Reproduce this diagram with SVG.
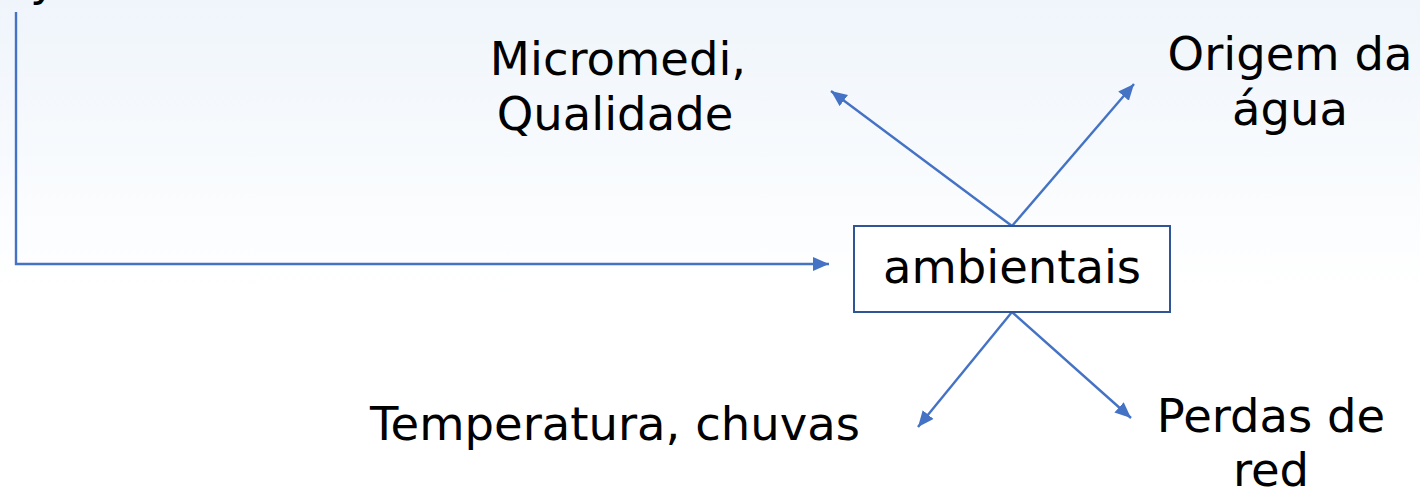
<svg xmlns="http://www.w3.org/2000/svg" width="1420" height="492" viewBox="0 0 1420 492">
  <defs>
    <linearGradient id="bg" x1="0" y1="0" x2="0" y2="1">
      <stop offset="0" stop-color="#EFF5FB"/>
      <stop offset="0.6" stop-color="#FFFFFF"/>
      <stop offset="1" stop-color="#FFFFFF"/>
    </linearGradient>
    <marker id="arr" markerUnits="userSpaceOnUse" markerWidth="18" markerHeight="16" refX="16" refY="7" orient="auto">
      <path d="M0,0 L16,7 L0,14 Z" fill="#4472C4"/>
    </marker>
    <style>
      .t { font-family: "DejaVu Sans", Verdana, sans-serif; font-size: 46.5px; fill: #000; }
      .c { fill: none; stroke: #4472C4; stroke-width: 2.4; }
    </style>
  </defs>
  <rect x="0" y="0" width="1420" height="492" fill="url(#bg)"/>
  <text class="t" x="30" y="-5">y</text>

  <g id="connectors">
    <path class="c" d="M16,12 V264 H829" marker-end="url(#arr)"/>
    <path class="c" d="M1012,226 L831,91" marker-end="url(#arr)"/>
    <path class="c" d="M1012,226 L1134,84" marker-end="url(#arr)"/>
    <path class="c" d="M1012,312 L918,427" marker-end="url(#arr)"/>
    <path class="c" d="M1012,312 L1131,418" marker-end="url(#arr)"/>
  </g>

  <g id="node-ambientais">
    <rect x="854" y="226" width="316" height="86" fill="#FFFFFF" stroke="#2F5597" stroke-width="2"/>
    <text class="t" x="1012" y="283" text-anchor="middle">ambientais</text>
  </g>
  <g id="node-micromedi">
    <text class="t" x="618" y="75" text-anchor="middle">Micromedi,</text>
    <text class="t" x="615" y="130" text-anchor="middle">Qualidade</text>
  </g>
  <g id="node-origem">
    <text class="t" x="1290" y="70" text-anchor="middle">Origem da</text>
    <text class="t" x="1290" y="125" text-anchor="middle">água</text>
  </g>
  <g id="node-temperatura">
    <text class="t" x="615" y="440" text-anchor="middle">Temperatura, chuvas</text>
  </g>
  <g id="node-perdas">
    <text class="t" x="1271" y="432" text-anchor="middle">Perdas de</text>
    <text class="t" x="1271" y="486" text-anchor="middle">red</text>
  </g>
</svg>
